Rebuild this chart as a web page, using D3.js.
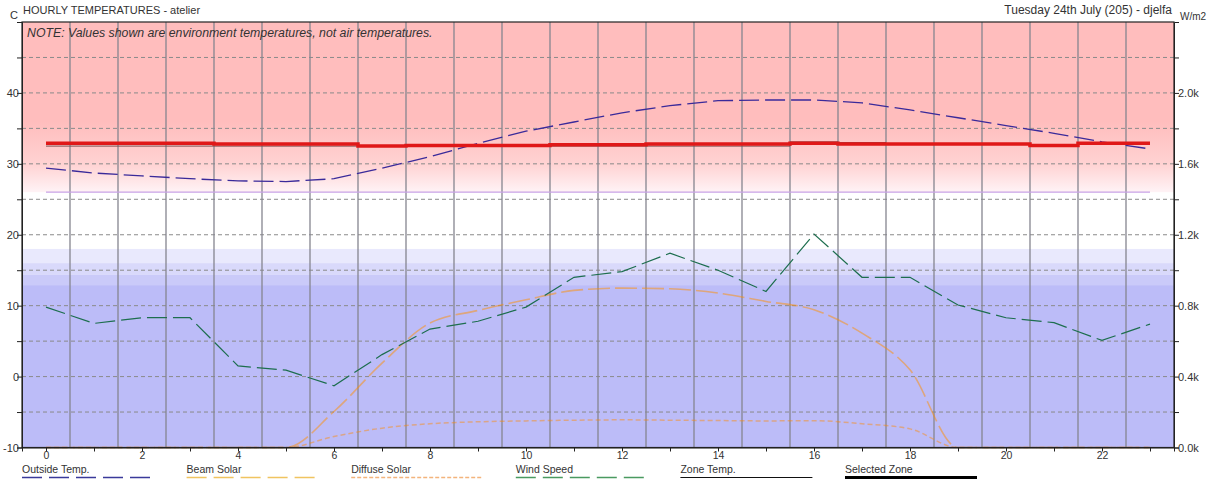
<!DOCTYPE html>
<html>
<head>
<meta charset="utf-8">
<script src="https://cdn.jsdelivr.net/npm/d3@7"></script>
<style>
  html, body { margin: 0; padding: 0; background: #ffffff; }
  svg { display: block; font-family: "Liberation Sans", Arial, sans-serif; }
</style>
</head>
<body>
<svg id="chart" width="1210" height="479"></svg>
<script>
// ---------------- DATA ----------------
const hours = [0,1,2,3,4,5,6,7,8,9,10,11,12,13,14,15,16,17,18,19,20,21,22,23];
const xTickLabels = [0,2,4,6,8,10,12,14,16,18,20,22];
const leftTicks = [-10,0,10,20,30,40];
const rightTicks = [0,400,800,1200,1600,2000];
const rightTickLabels = ["0.0k","0.4k","0.8k","1.2k","1.6k","2.0k"];

const outsideTemp = [29.4,28.7,28.3,27.9,27.6,27.5,27.9,29.4,31.0,32.9,34.6,35.9,37.2,38.2,38.9,39.0,39.0,38.6,37.6,36.5,35.4,34.3,33.1,32.1];
const windSpeed   = [9.8,7.5,8.3,8.3,1.5,0.9,-1.3,3.1,6.7,7.8,9.8,14.0,14.8,17.4,15.0,12.0,20.1,14.0,14.0,10.1,8.3,7.6,5.1,7.4];
const beamSolar   = [0,0,0,0,0,0,203,476,702,773,833,886,899,895,871,824,777,645,438,0,0,0,0,0];
const diffuseSolar= [0,0,0,0,0,0,62,109,134,145,150,154,156,154,152,150,151,134,105,0,0,0,0,0];
const zoneTemp    = [32.5,32.5,32.5,32.5,32.5,32.5,32.5,32.5,32.5,32.5,32.5,32.5,32.5,32.5,32.5,32.5,33.1,33.0,32.8,32.8,32.8,32.7,32.8,32.8];
const selectedZone= [32.9,32.9,32.9,32.9,32.8,32.8,32.8,32.5,32.6,32.6,32.6,32.7,32.7,32.8,32.8,32.8,32.9,32.8,32.8,32.8,32.8,32.6,32.9,32.9];
const comfortLine = [26.0,26.0,26.0,26.0,26.0,26.0,26.0,26.0,26.0,26.0,26.0,26.0,26.0,26.0,26.0,26.0,26.0,26.0,26.0,26.0,26.0,26.0,26.0,26.0];

const legendNames = ["Outside Temp.","Beam Solar","Diffuse Solar","Wind Speed","Zone Temp.","Selected Zone"];

// ---------------- SETUP ----------------
const svg = d3.select("#chart");
const L = 22, R = 1174, T = 22, B = 447.5;
const x = d3.scaleLinear().domain([-0.5, 23.5]).range([L, R]);
const y = d3.scaleLinear().domain([-10, 50]).range([B, T]);
const yR = d3.scaleLinear().domain([0, 2400]).range([B, T]);

// background bands
const defs = svg.append("defs");
const grad = defs.append("linearGradient").attr("id","pinkGrad")
  .attr("x1",0).attr("x2",0)
  .attr("gradientUnits","userSpaceOnUse")
  .attr("y1", y(50)).attr("y2", y(26));
grad.append("stop").attr("offset", (50-36)/(50-26)).attr("stop-color","#ffbdbd");
grad.append("stop").attr("offset", (50-30)/(50-26)).attr("stop-color","#ffd2d2");
grad.append("stop").attr("offset", 1).attr("stop-color","#fff3f6");

svg.append("rect").attr("x", L).attr("width", R-L)
  .attr("y", y(50)).attr("height", y(26)-y(50)).attr("fill","url(#pinkGrad)");

const blueBands = [[18,16,"#e9e9fd"],[16,14.4,"#d9d9fb"],[14.4,12.9,"#cacaf9"],[12.9,-10,"#bcbcf8"]];
svg.selectAll("rect.band").data(blueBands).enter().append("rect")
  .attr("class","band").attr("x", L).attr("width", R-L)
  .attr("y", d => y(d[0])).attr("height", d => y(d[1]) - y(d[0]))
  .attr("fill", d => d[2]);

// horizontal dashed grid
svg.selectAll("line.hgrid").data(d3.range(-5, 50, 5)).enter().append("line")
  .attr("x1", L).attr("x2", R).attr("y1", d => y(d)).attr("y2", d => y(d))
  .attr("stroke","#8a8a8a").attr("stroke-width",1).attr("stroke-dasharray","4,3");

// vertical solid grid
svg.selectAll("line.vgrid").data(hours.slice(0,23)).enter().append("line")
  .attr("x1", d => x(d+0.5)).attr("x2", d => x(d+0.5)).attr("y1", T).attr("y2", B)
  .attr("stroke","#85858f").attr("stroke-width",1.3);

// lines
const lineL = arr => d3.line().x((d,i) => x(hours[i])).y(d => y(d))(arr);
const lineR = arr => d3.line().x((d,i) => x(hours[i])).y(d => yR(d)).curve(d3.curveMonotoneX)(arr);

svg.append("path").attr("d", lineL(comfortLine)).attr("fill","none")
  .attr("stroke","#c9a2e6").attr("stroke-width",1.2);

svg.append("path").attr("d", lineR(diffuseSolar)).attr("fill","none")
  .attr("stroke","#ff8a00").attr("stroke-opacity",0.45).attr("stroke-width",1.5).attr("stroke-dasharray","5,3");
svg.append("path").attr("d", lineR(beamSolar)).attr("fill","none")
  .attr("stroke","#ff9000").attr("stroke-opacity",0.5).attr("stroke-width",1.6).attr("stroke-dasharray","22,5");

svg.append("path").attr("d", lineL(windSpeed)).attr("fill","none")
  .attr("stroke","#1d6e4e").attr("stroke-width",1.2).attr("stroke-dasharray","20,6");

svg.append("path").attr("d", lineL(outsideTemp)).attr("fill","none")
  .attr("stroke","#3a2a9a").attr("stroke-width",1.3).attr("stroke-dasharray","20,6");

svg.append("path").attr("d", d3.line().x((d,i)=>x(hours[i])).y(d=>y(d)).curve(d3.curveStep)(zoneTemp))
  .attr("fill","none").attr("stroke","#7a5050").attr("stroke-width",1);
svg.append("path").attr("d", d3.line().x((d,i)=>x(hours[i])).y(d=>y(d)).curve(d3.curveStep)(selectedZone))
  .attr("fill","none").attr("stroke","#e01818").attr("stroke-width",3.5);

// frame
svg.append("rect").attr("x", L).attr("y", T).attr("width", R-L).attr("height", B-T)
  .attr("fill","none").attr("stroke","#222").attr("stroke-width",1.2);

// axes
const txtColor = "#333";
const leftAxis = d3.axisLeft(y).tickValues(d3.range(-10, 50, 5)).tickSize(5)
  .tickFormat(d => leftTicks.includes(d) ? d : "");
const gL = svg.append("g").attr("transform", `translate(${L},0)`).call(leftAxis);
const rightAxis = d3.axisRight(yR).tickValues(d3.range(0, 2400, 200)).tickSize(5)
  .tickFormat(d => rightTicks.includes(d) ? rightTickLabels[rightTicks.indexOf(d)] : "");
const gR = svg.append("g").attr("transform", `translate(${R},0)`).call(rightAxis);
const bottomAxis = d3.axisBottom(x).tickValues(hours).tickSize(4)
  .tickFormat(d => xTickLabels.includes(d) ? d : "");
const gB = svg.append("g").attr("transform", `translate(0,${B})`).call(bottomAxis);
[gL, gR, gB].forEach(g => {
  g.select(".domain").attr("stroke","#222");
  g.selectAll(".tick line").attr("stroke","#222");
  g.selectAll("text").attr("fill", txtColor).attr("font-size", 11)
    .attr("font-family","Liberation Sans, Arial, sans-serif");
});
gL.selectAll(".tick text").attr("x", -3);
gR.selectAll(".tick text").attr("x", 4);
gB.selectAll(".tick text").attr("y", 4).attr("font-size", 10.5);

// titles
svg.append("text").attr("x", 23).attr("y", 14).attr("font-size", 11).attr("fill", txtColor)
  .text("HOURLY TEMPERATURES - atelier");
svg.append("text").attr("x", 10).attr("y", 19).attr("font-size", 11).attr("fill", txtColor).text("C");
svg.append("text").attr("x", 1172).attr("y", 14).attr("font-size", 12).attr("fill", txtColor)
  .attr("text-anchor","end").text("Tuesday 24th July (205) - djelfa");
svg.append("text").attr("x", 1180).attr("y", 20).attr("font-size", 10).attr("fill", txtColor).text("W/m2");
svg.append("text").attr("x", 27).attr("y", 37).attr("font-size", 12.3).attr("font-style","italic")
  .attr("fill", txtColor).text("NOTE: Values shown are environment temperatures, not air temperatures.");

// legend
const legendStyles = [
  {stroke:"#3a3a9a", w:1.3, dash:"20,7"},
  {stroke:"#f0c460", w:1.5, dash:"20,7"},
  {stroke:"#f3b47c", w:1.3, dash:"4,2"},
  {stroke:"#4a9a60", w:1.3, dash:"20,7"},
  {stroke:"#111111", w:1, dash:null},
  {stroke:"#000000", w:3, dash:null}
];
const lg = svg.selectAll("g.leg").data(legendNames).enter().append("g")
  .attr("transform", (d,i) => `translate(${22 + i*164.6},0)`);
lg.append("text").attr("x", 0).attr("y", 473).attr("font-size", 10.5).attr("fill", txtColor).text(d => d);
lg.append("line").attr("x1", 0).attr("x2", 132).attr("y1", 477.5).attr("y2", 477.5)
  .attr("stroke", (d,i) => legendStyles[i].stroke)
  .attr("stroke-width", (d,i) => legendStyles[i].w)
  .attr("stroke-dasharray", (d,i) => legendStyles[i].dash);
</script>
</body>
</html>
